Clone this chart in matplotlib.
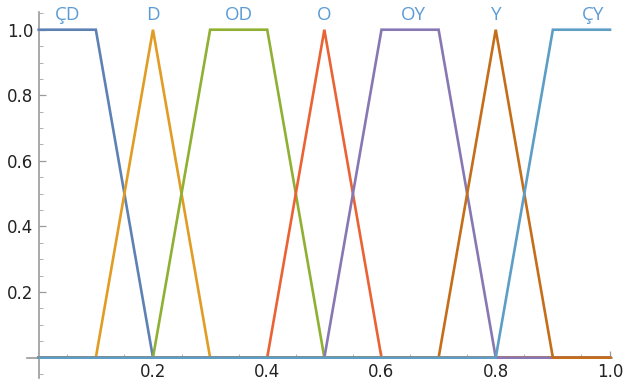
import numpy as np
import matplotlib.pyplot as plt
from matplotlib.ticker import MultipleLocator

# membership functions (breakpoints, values)
names = ['ÇD', 'D', 'OD', 'O', 'OY', 'Y', 'ÇY']
xs = [
    [0.0, 0.1, 0.2, 1.0],
    [0.0, 0.1, 0.2, 0.3, 1.0],
    [0.0, 0.2, 0.3, 0.4, 0.5, 1.0],
    [0.0, 0.4, 0.5, 0.6, 1.0],
    [0.0, 0.5, 0.6, 0.7, 0.8, 1.0],
    [0.0, 0.7, 0.8, 0.9, 1.0],
    [0.0, 0.8, 0.9, 1.0],
]
ys = [
    [1, 1, 0, 0],
    [0, 0, 1, 0, 0],
    [0, 0, 1, 1, 0, 0],
    [0, 0, 1, 0, 0],
    [0, 0, 1, 1, 0, 0],
    [0, 0, 1, 0, 0],
    [0, 0, 1, 1],
]
label_x = [0.05, 0.2, 0.35, 0.5, 0.655, 0.8, 0.97]
colors = ['#5E81B5', '#E19C24', '#8FB032', '#EB6235', '#8778B3', '#C56E1A', '#5D9EC7']

fig = plt.figure(figsize=(6.3, 3.82), dpi=100)
ax = fig.add_axes([27 / 630, 4 / 382, 585 / 630, 366 / 382])

for x, y, c in zip(xs, ys, colors):
    ax.plot(x, y, color=c, lw=1.9, solid_joinstyle='miter', clip_on=False)

for n, lx in zip(names, label_x):
    ax.text(lx, 1.045, n, color='#5B9BD5', fontsize=13.5, ha='center', va='center',
            family='Open Sans')

ax.set_xlim(-0.0205, 1.0035)
ax.set_ylim(-0.062, 1.054)

for s in ['top', 'right']:
    ax.spines[s].set_visible(False)
ax.spines['left'].set_position(('data', 0))
ax.spines['bottom'].set_position(('data', 0))
for s in ['left', 'bottom']:
    ax.spines[s].set_color('#9a9a9a')
    ax.spines[s].set_linewidth(1.2)
    ax.spines[s].set_zorder(0)

ax.set_xticks([0.2, 0.4, 0.6, 0.8, 1.0])
ax.set_xticklabels(['0.2', '0.4', '0.6', '0.8', '1.0'])
ax.set_yticks([0.2, 0.4, 0.6, 0.8, 1.0])
ax.set_yticklabels(['0.2', '0.4', '0.6', '0.8', '1.0'])
ax.xaxis.set_minor_locator(MultipleLocator(0.05))
ax.yaxis.set_minor_locator(MultipleLocator(0.05))
ax.tick_params(which='major', direction='in', length=5, width=0.9, color='#9a9a9a',
               labelsize=12, labelcolor='#222222', pad=4)
ax.tick_params(which='minor', direction='in', length=3, width=0.7, color='#b0b0b0')

fig.savefig('out.png', dpi=100)
